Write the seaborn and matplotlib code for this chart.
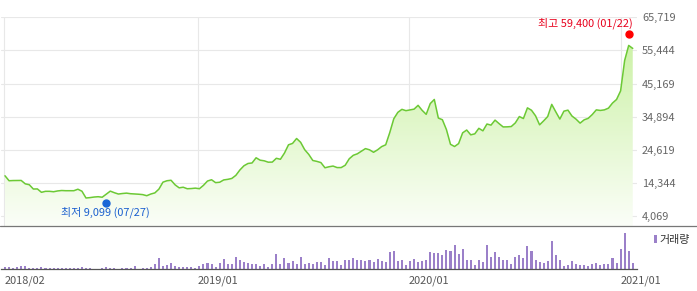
import numpy as np
import pandas as pd
import matplotlib
matplotlib.use("Agg")
import matplotlib.pyplot as plt
import matplotlib.dates as mdates
from matplotlib.lines import Line2D
from matplotlib.patches import Rectangle
from matplotlib.colors import LinearSegmentedColormap
import seaborn as sns

# ---------------- data ----------------
start_date = "2018-02-02"
price = [
    16600, 15060, 15120, 15120, 15150, 14100, 13820, 12490, 12520, 11470,
    11780, 11780, 11650, 11900, 12030, 11970, 11970, 11970, 12430, 11810,
    9710, 9830, 10010, 10110, 9950, 10880, 11840, 11350, 10940, 11100,
    11220, 11040, 10970, 10880, 10760, 10420, 10940, 11290, 12460, 14620,
    15060, 15210, 13790, 12860, 13050, 12580, 12640, 12770, 12580, 13630,
    14970, 15370, 14470, 14590, 15310, 15490, 15770, 16730, 18400, 19700,
    20410, 20570, 22180, 21430, 21240, 20810, 20840, 22020, 21710, 23630,
    26200, 26630, 28150, 26970, 24680, 23230, 21340, 21060, 20690, 19080,
    19390, 19610, 19140, 19140, 19860, 21870, 22950, 23410, 24220, 25020,
    24650, 23880, 24650, 25640, 26200, 29970, 34280, 36260, 37190, 36780,
    37030, 37250, 38430, 36880, 35640, 38980, 40250, 34490, 33970, 30900,
    26350, 25670, 26570, 29910, 30780, 29290, 29600, 31310, 30530, 32640,
    32300, 33850, 32760, 31740, 31770, 31860, 32980, 34960, 34340, 37650,
    36910, 35180, 32390, 33630, 34960, 38730, 36410, 34180, 36630, 36940,
    35110, 34150, 32920, 33940, 34400, 35580, 37030, 36850, 37030, 37560,
    39140, 40250, 42910, 52350, 57000, 56070,
]
volume = [
    2.0, 2.0, 1.3, 1.7, 2.7, 3.3, 1.3, 1.3, 1.3, 2.3,
    1.3, 1.3, 1.3, 1.3, 1.3, 1.3, 1.3, 1.3, 1.3, 2.3,
    1.3, 1.3, 0.3, 0.3, 1.3, 2.3, 1.3, 1.3, 0.3, 1.0,
    1.0, 1.0, 3.3, 0.3, 1.3, 1.3, 2.3, 5.3, 11.3, 3.3,
    4.3, 5.7, 2.7, 2.0, 2.3, 2.3, 2.3, 1.3, 3.3, 5.0,
    5.7, 5.0, 2.3, 5.7, 10.0, 5.0, 5.0, 12.0, 9.3, 7.0,
    5.7, 4.7, 5.0, 3.0, 5.3, 2.0, 5.0, 15.0, 5.0, 11.0,
    6.0, 8.0, 5.0, 12.0, 5.0, 6.0, 5.0, 7.0, 7.0, 4.0,
    11.0, 8.0, 8.0, 4.0, 9.0, 9.0, 11.0, 9.0, 9.0, 8.0,
    9.0, 7.0, 10.0, 8.0, 7.0, 17.0, 18.0, 8.0, 9.0, 4.0,
    8.0, 10.0, 7.0, 8.0, 9.0, 17.0, 16.0, 16.0, 14.0, 19.0,
    18.0, 24.0, 15.0, 20.0, 9.0, 9.0, 4.0, 9.0, 7.3, 24.0,
    12.0, 17.0, 12.0, 9.0, 9.0, 5.0, 12.0, 14.0, 11.0, 23.0,
    18.0, 9.0, 7.0, 6.0, 8.0, 28.0, 14.0, 9.0, 3.0, 4.0,
    8.0, 5.0, 4.0, 4.0, 3.0, 5.0, 6.0, 4.0, 5.0, 5.0,
    11.0, 6.0, 20.0, 36.0, 18.0, 6.0,
]
price_ticks = [4069, 14344, 24619, 34894, 45169, 55444, 65719]
x_tick_dates = ["2018-02-01", "2019-01-01", "2020-01-01", "2021-01-01"]
x_tick_labels = ["2018/02", "2019/01", "2020/01", "2021/01"]
high_label = "최고 59,400 (01/22)"
high_value = 59400
high_date = "2021-01-15"
low_label = "최저 9,099 (07/27)"
low_value = 9099
low_date = "2018-07-27"
volume_label = "거래량"

# ---------------- style ----------------
sns.set_style("white")
plt.rcParams["font.family"] = ["Noto Sans CJK KR", "DejaVu Sans"]

dates = pd.date_range(start_date, periods=len(price), freq="7D")
df = pd.DataFrame({"date": dates, "price": price, "volume": volume})

W, H = 697, 291
fig = plt.figure(figsize=(W / 100, H / 100), dpi=100)


def rect(x0, y0, x1, y1):
    return [x0 / W, 1 - y1 / H, (x1 - x0) / W, (y1 - y0) / H]


ax = fig.add_axes(rect(1, 17.3, 637, 226))
axv = fig.add_axes(rect(1, 226, 637, 269), sharex=ax)

d0 = mdates.date2num(dates[0])
d1 = mdates.date2num(dates[-1])
xlo, xhi = d0 - 6.9, d1 + 7.35
ylo, yhi = 1031, 65719

# gradient fill under the line
poly = ax.fill_between(df["date"], df["price"], ylo, color="none", lw=0)
cmap = LinearSegmentedColormap.from_list("g", ["#fbfef8", "#c6f09c"])
grad = np.linspace(0, 1, 256).reshape(-1, 1)
im = ax.imshow(grad, cmap=cmap, origin="lower", aspect="auto",
               extent=[xlo, xhi, ylo, yhi], zorder=1)
im.set_clip_path(poly.get_paths()[0], transform=ax.transData)

sns.lineplot(data=df, x="date", y="price", ax=ax, color="#6cc935",
             linewidth=1.1, zorder=3)

ax.set_xlim(xlo, xhi)
ax.set_ylim(ylo, yhi)
ax.set_yticks(price_ticks)
ax.set_yticklabels([f"{v:,}" for v in price_ticks])
ax.yaxis.tick_right()
ax.tick_params(axis="y", length=0, pad=3.6, labelsize=7.9, labelcolor="#666666")
ax.set_xticks(pd.to_datetime(x_tick_dates))
ax.tick_params(axis="x", length=0, labelbottom=False)
ax.grid(True, color="#e8e8e8", lw=0.8, zorder=0)
ax.set_axisbelow(True)
ax.set_xlabel("")
ax.set_ylabel("")
for s in ax.spines.values():
    s.set_visible(False)

# high / low markers
hd = pd.Timestamp(high_date)
ld = pd.Timestamp(low_date)
ax.annotate("", xy=(hd, high_value))
ax.plot([hd], [high_value], "o", color="#ff0000", ms=5,
        transform=ax.transData + matplotlib.transforms.ScaledTranslation(0, 3.5 / 100, fig.dpi_scale_trans),
        clip_on=False, zorder=5)
ax.annotate(high_label, xy=(hd, high_value), xytext=(4, 14.5),
            textcoords="offset pixels", ha="right", va="center",
            fontsize=7.9, color="#e8001c", annotation_clip=False)
ax.plot([ld], [low_value], "o", color="#1a66d6", ms=5,
        transform=ax.transData + matplotlib.transforms.ScaledTranslation(0, -2.7 / 100, fig.dpi_scale_trans),
        clip_on=False, zorder=5)
ax.annotate(low_label, xy=(ld, low_value), xytext=(-0.5, -12.7),
            textcoords="offset pixels", ha="center", va="center",
            fontsize=7.9, color="#1a5fcf", annotation_clip=False)

# volume
axv.bar(df["date"], df["volume"], width=3.5, color="#9b80c9", lw=0)
axv.set_ylim(0, 43)
axv.set_yticks([])
axv.set_xticks(pd.to_datetime(x_tick_dates))
axv.set_xticklabels(x_tick_labels, ha="left")
axv.tick_params(axis="x", length=3, width=0.8, color="#999999", pad=1.5,
                labelsize=7.9, labelcolor="#555555")
for k, s in axv.spines.items():
    s.set_visible(k == "bottom")
axv.spines["bottom"].set_color("#555555")
axv.spines["bottom"].set_linewidth(0.9)
axv.grid(False)

# separator line across full width
fig.add_artist(Line2D([0, 1], [1 - 226 / H] * 2, transform=fig.transFigure,
                      color="#777777", lw=0.9))

# volume legend
fig.add_artist(Rectangle((653.5 / W, 1 - 243 / H), 3 / W, 8 / H,
                         transform=fig.transFigure, color="#9b80c9", lw=0))
fig.text(659 / W, 1 - 239.5 / H, volume_label, ha="left", va="center",
         fontsize=7.9, color="#333333")

fig.savefig("out.png", dpi=100)
